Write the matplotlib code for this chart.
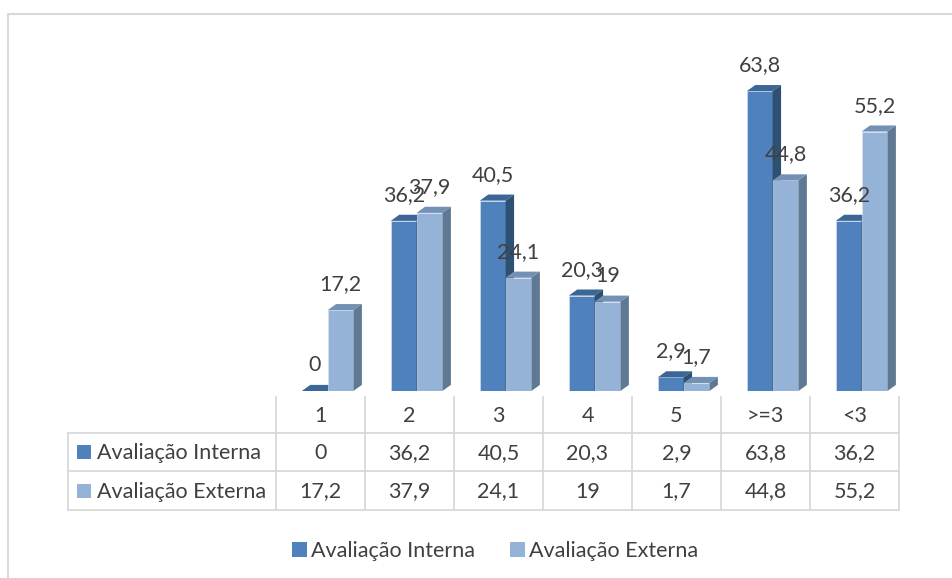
import matplotlib.pyplot as plt
from matplotlib.patches import Polygon, Rectangle

# data
categorias = ['1', '2', '3', '4', '5', '>=3', '<3']
interna = [0, 36.2, 40.5, 20.3, 2.9, 63.8, 36.2]
externa = [17.2, 37.9, 24.1, 19, 1.7, 44.8, 55.2]
series = ['Avaliação Interna', 'Avaliação Externa']

def fmt(v):
    # numbers with decimal comma, as in the original
    s = ('%g' % v)
    return s.replace('.', ',')

plt.rcParams['font.family'] = ['Lato', 'DejaVu Sans']
fs = 15.5
txt = '#404040'
grid = '#d9d9d9'
cores = {
    'Avaliação Interna': ('#4f81bd', '#3b6796', '#2e5073'),
    'Avaliação Externa': ('#95b3d7', '#7391b4', '#5f7893'),
}

W, H = 952, 578
fig = plt.figure(figsize=(W / 100, H / 100), dpi=100)

# overlay axes in pixel units for border / table
ov = fig.add_axes([0, 0, 1, 1])
ov.set_xlim(0, W)
ov.set_ylim(H, 0)
ov.axis('off')

# outer chart border (left and top visible)
ov.plot([8, 8, W], [H, 14, 14], color=grid, lw=1.5)

# bar axes
x_left, x_right, base, top = 276, 899, 391, 62
ax = fig.add_axes([x_left / W, (H - base) / H, (x_right - x_left) / W, (base - top) / H])
ax.set_xlim(-0.5, len(categorias) - 0.5)
ax.set_ylim(0, 70)
ax.axis('off')

bw = 0.29
x0s = [-0.21, -0.21 + bw]
dx, dy = 0.095, 1.3

def bar3d(xa, h, cols):
    front, topc, side = cols
    xb = xa + bw
    ax.bar(xa, h, width=bw, align='edge', color=front, edgecolor='#dce6f2', lw=0.4, zorder=3)
    ax.add_patch(Polygon([(xa, h), (xa + dx, h + dy), (xb + dx, h + dy), (xb, h)],
                         closed=True, facecolor=topc, edgecolor='none', zorder=3, clip_on=False))
    ax.add_patch(Polygon([(xb, 0), (xb + dx, dy), (xb + dx, h + dy), (xb, h)],
                         closed=True, facecolor=side, edgecolor='none', zorder=3, clip_on=False))

for i in range(len(categorias)):
    for s, vals, off in [(series[0], interna, x0s[0]), (series[1], externa, x0s[1])]:
        xa = i + off
        bar3d(xa, vals[i], cores[s])
        ax.text(xa + bw / 2, vals[i] + 5.5, fmt(vals[i]), ha='center', va='center',
                fontsize=fs, color=txt, zorder=5, clip_on=False)

# data table
colw = (x_right - x_left) / len(categorias)
t_left, r0, r1, r2, r3 = 68, 397, 433, 471, 510
for k in range(len(categorias) + 1):
    xk = x_left + k * colw
    ov.plot([xk, xk], [r0, r3], color=grid, lw=1.3)
ov.plot([t_left, t_left], [r1, r3], color=grid, lw=1.3)
for yy in [r1, r2, r3]:
    ov.plot([t_left, x_right], [yy, yy], color=grid, lw=1.3)

for k, c in enumerate(categorias):
    cx = x_left + (k + 0.5) * colw
    ov.text(cx, (r0 + r1) / 2 + 1, c, ha='center', va='center', fontsize=fs, color=txt)
    ov.text(cx, (r1 + r2) / 2 + 1, fmt(interna[k]), ha='center', va='center', fontsize=fs, color=txt)
    ov.text(cx, (r2 + r3) / 2 + 1, fmt(externa[k]), ha='center', va='center', fontsize=fs, color=txt)

for s, (ya, yb) in zip(series, [(r1, r2), (r2, r3)]):
    cy = (ya + yb) / 2
    ov.add_patch(Rectangle((77, cy - 7), 14, 14, facecolor=cores[s][0], edgecolor='none'))
    ov.text(97, cy + 1, s, ha='left', va='center', fontsize=fs, color=txt)

# legend
handles = [Rectangle((0, 0), 1, 1, facecolor=cores[s][0], edgecolor='none') for s in series]
fig.legend(handles, series, loc='center', bbox_to_anchor=(495 / W, 1 - 551 / H), ncol=2,
           frameon=False, fontsize=fs, labelcolor=txt, handlelength=0.7, handleheight=0.7,
           handletextpad=0.2, columnspacing=1.6)

fig.savefig('out.png', dpi=100, facecolor='white')
